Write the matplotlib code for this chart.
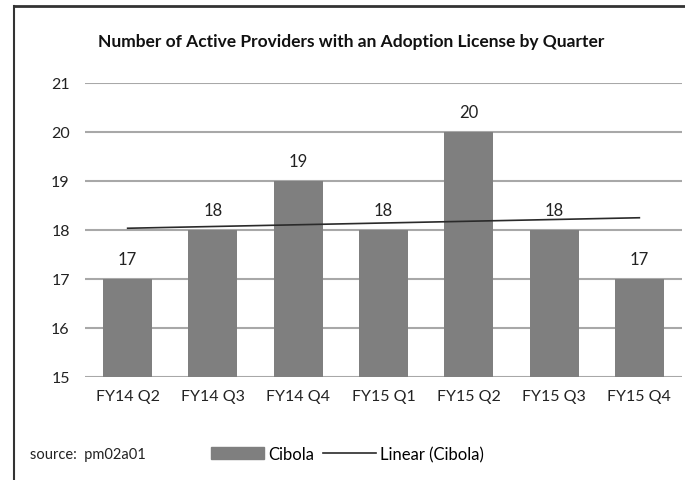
import matplotlib
matplotlib.use("Agg")
import matplotlib.pyplot as plt
import numpy as np
from matplotlib.lines import Line2D

categories = ["FY14 Q2", "FY14 Q3", "FY14 Q4", "FY15 Q1", "FY15 Q2", "FY15 Q3", "FY15 Q4"]
values = [17, 18, 19, 18, 20, 18, 17]
yticks = [15, 16, 17, 18, 19, 20, 21]

plt.rcParams['font.family'] = ['Lato', 'DejaVu Sans']

fig = plt.figure(figsize=(6.85, 4.81), dpi=100)
ax = fig.add_axes([85/685, 1-378/481, (682-85)/685, (378-84)/481])

x = np.arange(len(categories))
bars = ax.bar(x, values, width=0.575, color='#7f7f7f', zorder=3)
ax.set_ylim(15, 21)
ax.set_xlim(-0.5, len(categories) - 0.5)
ax.set_yticks(yticks)
ax.set_xticks(x)
ax.set_xticklabels(categories)
ax.tick_params(axis='both', length=0, labelsize=11.5, colors='#222222')
ax.tick_params(axis='y', pad=11)
ax.tick_params(axis='x', pad=9)
for s in ax.spines.values():
    s.set_visible(False)
ax.yaxis.grid(True, color='#a8a8a8', linewidth=1.5, zorder=0)

for xi, v in zip(x, values):
    ax.text(xi, v + 0.25, str(v), ha='center', va='bottom', fontsize=12, color='#222222')

coef = np.polyfit(x, values, 1)
trend = np.polyval(coef, x)
ax.plot(x, trend, color='#2a2a2a', linewidth=1.2, zorder=4)

fig.text(351/685, 1-42/481, "Number of Active Providers with an Adoption License by Quarter",
         ha='center', va='center', fontsize=12.5, fontweight='bold', color='#111111')

fig.text(30/685, 1-455/481, "source:  pm02a01", ha='left', va='center', fontsize=10.5, color='#222222')

handles = [plt.Rectangle((0, 0), 1, 1, color='#7f7f7f'),
           Line2D([0], [0], color='#2a2a2a', linewidth=1.2)]
fig.legend(handles, ["Cibola", "Linear (Cibola)"], loc='center left',
           bbox_to_anchor=(196/685, 1-455/481), ncol=2, frameon=False,
           fontsize=12, handlelength=3.2, handleheight=0.7, handletextpad=0.25,
           columnspacing=0.5)

# border
fig.add_artist(Line2D([14/685, 1.0], [1-7/481, 1-7/481], transform=fig.transFigure,
                      color='#333333', linewidth=2))
fig.add_artist(Line2D([14/685, 14/685], [0, 1-7/481], transform=fig.transFigure,
                      color='#333333', linewidth=1.5))

fig.savefig("out.png", dpi=100)
